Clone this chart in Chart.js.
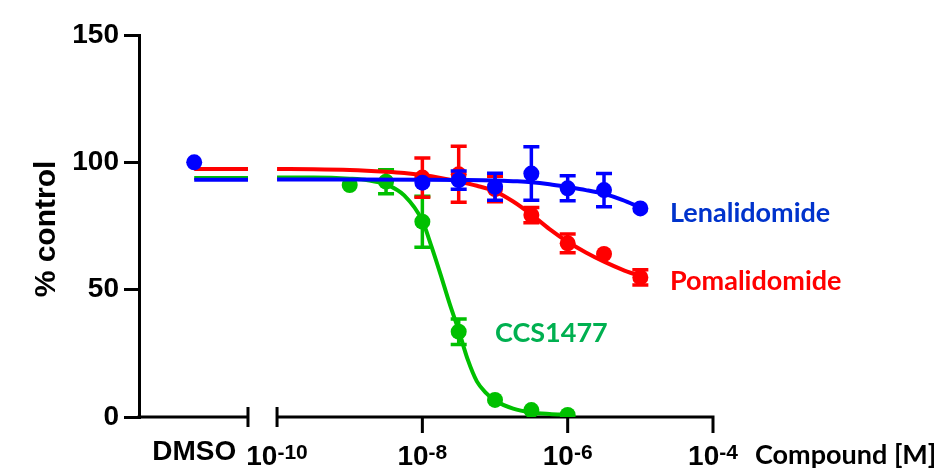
<!DOCTYPE html>
<html>
<head>
<meta charset="utf-8">
<script src="https://cdn.jsdelivr.net/npm/chart.js@4.4.1/dist/chart.umd.min.js"></script>
<style>
  html, body { margin: 0; padding: 0; background: #fff; }
</style>
</head>
<body>
<canvas id="doseChart" width="938" height="473"></canvas>
<script>
// doses are log10 of the molar concentration
const ccsDose = [-9, -8.5, -8, -7.5, -7, -6.5, -6];
const ccsMean = [91.1, 92.4, 76.7, 33.5, 6.7, 2.7, 0.8];
const ccsErr = [0, 4.7, 10, 5, 0, 0, 0];

const imidDose = [-8, -7.5, -7, -6.5, -6, -5.5, -5];
const lenaMean = [92, 93, 90.4, 95.6, 89.8, 89.1, 81.9];
const lenaErr = [0, 3.6, 5.3, 10.5, 4.9, 6.5, 0];
const pomaMean = [94, 95.3, 89.5, 79.3, 68.2, 64, 54.8];
const pomaErr = [7.7, 11, 5, 3, 3.7, 0, 3];

const dmsoLena = 100;

// fitted curves
const ccsFitDose = [-10, -9.5, -9, -8.75, -8.5, -8.25, -8, -7.875, -7.75, -7.625, -7.5, -7.375, -7.25, -7.125, -7, -6.75, -6.5, -6.25, -6];
const ccsFit = [94, 94, 93.6, 93, 91.3, 87, 77, 67, 56, 44.5, 34, 22.5, 14, 9.5, 6.5, 3.3, 1.8, 1.2, 0.9];
const pomaFitDose = [-10, -9.5, -9, -8.5, -8.25, -8, -7.75, -7.5, -7.25, -7, -6.75, -6.5, -6.25, -6, -5.75, -5.5, -5.25, -5];
const pomaFit = [97.4, 97.3, 97.0, 96.3, 95.8, 95.0, 93.9, 92.5, 90.8, 88.6, 84.6, 79.5, 73.8, 68.8, 64.6, 61.0, 57.9, 55.3];
const lenaFitDose = [-10, -9, -8, -7.5, -7, -6.75, -6.5, -6.25, -6, -5.75, -5.5, -5.25, -5];
const lenaFit = [93.3, 93.3, 93.2, 93.1, 92.9, 92.6, 92.2, 91.4, 90.3, 89.1, 87.6, 85.3, 82.3];
// DMSO-level plateau of each fit
const ccsTop = 93.8, lenaTop = 93.2, pomaTop = 97.4;

const xTickExp = [-10, -8, -6, -4];
const yTicks = [0, 50, 100, 150];

// where the broken axis sits (log10 units)
const AXIS_MIN = -11.9, AXIS_MAX = -4, DMSO_AT = -11.14, BREAK_AT = -10.4;

const BLUE = '#0000ff', RED = '#ff0000', GREEN = '#00c000';

const M = e => Math.pow(10, e);

function fitLine(top, dose, vals) {
  const pts = [{ x: M(DMSO_AT), y: top }, { x: M(BREAK_AT), y: top }, { x: M(-10.2), y: null }];
  dose.forEach((d, i) => pts.push({ x: M(d), y: vals[i] }));
  return pts;
}
function pointsOf(dose, vals) {
  return dose.map((d, i) => ({ x: M(d), y: vals[i] }));
}

const lenaPts = pointsOf(imidDose, lenaMean);
lenaPts.unshift({ x: M(DMSO_AT), y: dmsoLena });

const lineStyle = { showLine: true, pointRadius: 0, borderWidth: 4, cubicInterpolationMode: 'monotone', spanGaps: false };
const dotStyle = { showLine: false, pointRadius: 8, pointHoverRadius: 8, pointBorderWidth: 0 };

const datasets = [
  { ...lineStyle, data: fitLine(ccsTop, ccsFitDose, ccsFit), borderColor: GREEN, order: 6 },
  { ...dotStyle, data: pointsOf(ccsDose, ccsMean), errors: ccsErr, backgroundColor: GREEN, borderColor: GREEN, order: 5 },
  { ...lineStyle, data: fitLine(pomaTop, pomaFitDose, pomaFit), borderColor: RED, order: 4 },
  { ...dotStyle, data: pointsOf(imidDose, pomaMean), errors: pomaErr, backgroundColor: RED, borderColor: RED, order: 3 },
  { ...lineStyle, data: fitLine(lenaTop, lenaFitDose, lenaFit), borderColor: BLUE, order: 2 },
  { ...dotStyle, data: lenaPts, errors: [0].concat(lenaErr), backgroundColor: BLUE, borderColor: BLUE, order: 1 }
];

const AXIS_FONT = '"Liberation Sans", Arial, sans-serif';
const LABEL_FONT = 'Lato, "Open Sans", sans-serif';

const brokenAxis = {
  id: 'brokenAxis',
  beforeDatasetsDraw(chart) {
    const { ctx, chartArea } = chart;
    const x = chart.scales.x;
    const y0 = chartArea.bottom;
    const xb = x.getPixelForValue(M(BREAK_AT));
    const x10 = x.getPixelForValue(M(xTickExp[0]));
    ctx.save();
    ctx.strokeStyle = '#000';
    ctx.lineWidth = 3;
    ctx.beginPath();
    ctx.moveTo(chartArea.left - 1.5, y0); ctx.lineTo(xb, y0);
    ctx.moveTo(x10, y0); ctx.lineTo(x.getPixelForValue(M(AXIS_MAX)) + 1.5, y0);
    ctx.moveTo(xb, y0 - 10); ctx.lineTo(xb, y0 + 10);
    ctx.moveTo(x10, y0 - 10); ctx.lineTo(x10, y0 + 10);
    xTickExp.slice(1).forEach(e => {
      const px = x.getPixelForValue(M(e));
      ctx.moveTo(px, y0); ctx.lineTo(px, y0 + 16);
    });
    ctx.stroke();
    ctx.restore();
  },
  beforeDatasetDraw(chart, args) {
    const ds = chart.data.datasets[args.index];
    if (!ds.errors) return;
    const { ctx } = chart;
    const x = chart.scales.x, y = chart.scales.y;
    ctx.save();
    ctx.strokeStyle = ds.borderColor;
    ctx.lineWidth = 3.5;
    ds.data.forEach((p, i) => {
      const err = ds.errors[i];
      if (!err) return;
      const px = x.getPixelForValue(p.x);
      const hi = y.getPixelForValue(p.y + err), lo = y.getPixelForValue(p.y - err);
      ctx.beginPath();
      ctx.moveTo(px, hi); ctx.lineTo(px, lo);
      ctx.moveTo(px - 8, hi); ctx.lineTo(px + 8, hi);
      ctx.moveTo(px - 8, lo); ctx.lineTo(px + 8, lo);
      ctx.stroke();
    });
    ctx.restore();
  },
  afterDraw(chart) {
    const { ctx } = chart;
    const x = chart.scales.x;
    ctx.save();
    ctx.fillStyle = '#000';
    ctx.textBaseline = 'alphabetic';

    // DMSO label
    ctx.font = 'bold 28px ' + AXIS_FONT;
    ctx.textAlign = 'center';
    ctx.fillText('DMSO', x.getPixelForValue(M(DMSO_AT)), 460);

    // power-of-ten tick labels
    xTickExp.forEach(e => {
      const base = '10', sup = String(e);
      ctx.font = 'bold 28px ' + AXIS_FONT;
      const wb = ctx.measureText(base).width;
      ctx.font = 'bold 21px ' + AXIS_FONT;
      const ws = ctx.measureText(sup).width;
      const left = x.getPixelForValue(M(e)) - (wb + ws) / 2;
      ctx.textAlign = 'left';
      ctx.font = 'bold 28px ' + AXIS_FONT;
      ctx.fillText(base, left, 465);
      ctx.font = 'bold 21px ' + AXIS_FONT;
      ctx.fillText(sup, left + wb, 459);
    });

    // axis titles
    ctx.font = 'bold 27px ' + LABEL_FONT;
    ctx.textAlign = 'left';
    ctx.fillText('Compound [M]', 755, 464);

    ctx.save();
    ctx.translate(55, 229);
    ctx.rotate(-Math.PI / 2);
    ctx.textAlign = 'center';
    ctx.font = 'bold 30px ' + AXIS_FONT;
    ctx.fillText('% control', 0, 0);
    ctx.restore();

    // series labels
    ctx.font = 'bold 27px ' + LABEL_FONT;
    ctx.textAlign = 'left';
    ctx.fillStyle = '#0033cc';
    ctx.fillText('Lenalidomide', 670, 222);
    ctx.fillStyle = '#ff0000';
    ctx.fillText('Pomalidomide', 670, 290);
    ctx.fillStyle = '#00b050';
    ctx.fillText('CCS1477', 495, 342);
    ctx.restore();
  }
};

new Chart(document.getElementById('doseChart'), {
  type: 'scatter',
  data: { datasets },
  options: {
    responsive: false,
    animation: false,
    devicePixelRatio: 1,
    layout: { padding: { top: 35, right: 225, bottom: 56, left: 0 } },
    plugins: { legend: { display: false }, tooltip: { enabled: false } },
    scales: {
      x: {
        type: 'logarithmic',
        display: false,
        bounds: 'data',
        min: M(AXIS_MIN),
        max: M(AXIS_MAX)
      },
      y: {
        min: 0,
        max: 150,
        afterBuildTicks: s => { s.ticks = yTicks.map(v => ({ value: v })); },
        afterFit: s => { s.width = 139; },
        border: { display: true, color: '#000', width: 3 },
        grid: { drawOnChartArea: false, drawTicks: true, tickLength: 15, color: '#000', lineWidth: 3 },
        ticks: { color: '#000', padding: 5, font: { family: AXIS_FONT, size: 28, weight: 'bold' } }
      }
    }
  },
  plugins: [brokenAxis]
});
</script>
</body>
</html>
